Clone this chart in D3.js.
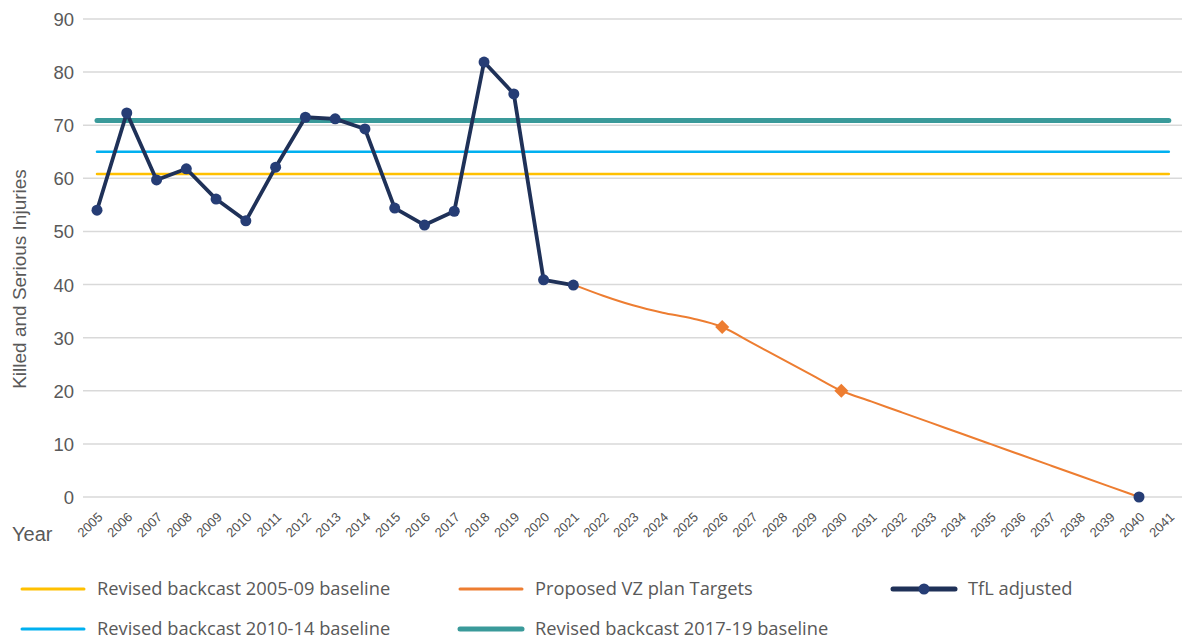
<!DOCTYPE html>
<html>
<head>
<meta charset="utf-8">
<script src="https://cdn.jsdelivr.net/npm/d3@7"></script>
<style>
  html, body { margin: 0; padding: 0; background: #fff; }
  svg { display: block; }
</style>
</head>
<body>
<svg id="chart" width="1182" height="641"></svg>
<script>
// ---- Data ----
const years = d3.range(2005, 2042).map(String);
const yTicks = [0, 10, 20, 30, 40, 50, 60, 70, 80, 90];
const tflAdjusted = [54, 72.3, 59.7, 61.8, 56.1, 52, 62.1, 71.5, 71.2, 69.3, 54.4, 51.2, 53.8, 81.9, 75.9, 40.9, 39.9,
  null, null, null, null, null, null, null, null, null, null, null, null, null, null, null, null, null, null, 0, null];
const vzTargets = [null, null, null, null, null, null, null, null, null, null, null, null, null, null, null, null, 40,
  37.9, 36.1, 34.7, 33.6, 32, 29, 26, 23, 20, 18, 16, 14, 12, 10, 8, 6, 4, 2, 0, null];
const vzMarkerYears = ["2026", "2030"];
const baseline0509 = 60.8;
const baseline1014 = 65.0;
const baseline1719 = 70.9;

const legendItems = [
  { key: "b0509", label: "Revised backcast 2005-09 baseline" },
  { key: "vz", label: "Proposed VZ plan Targets" },
  { key: "tfl", label: "TfL adjusted" },
  { key: "b1014", label: "Revised backcast 2010-14 baseline" },
  { key: "b1719", label: "Revised backcast 2017-19 baseline" }
];

// ---- Styles ----
const C = {
  grid: "#d9d9d9", text: "#595959",
  yellow: "#ffc000", blue: "#00b0f0", teal: "#3a9a9a", orange: "#ed7d31",
  navy: "#1f3158", navyMarker: "#263d75"
};
const AX_FONT = "Liberation Sans, Arial, sans-serif";

const svg = d3.select("#chart");
const x = d3.scalePoint().domain(years).range([97, 1168.8]);
const y = d3.scaleLinear().domain([0, 90]).range([497, 19]);

// gridlines
svg.append("g").selectAll("line").data(yTicks).join("line")
  .attr("x1", 83).attr("x2", 1182)
  .attr("y1", d => y(d)).attr("y2", d => y(d))
  .attr("stroke", C.grid).attr("stroke-width", 1.5);

// y axis labels
const yAxis = d3.axisLeft(y).tickValues(yTicks).tickSize(0).tickPadding(0);
const gy = svg.append("g").attr("transform", "translate(74,0)").call(yAxis);
gy.select(".domain").remove();
gy.selectAll("text").attr("font-family", AX_FONT)
  .attr("font-size", 18.5).attr("fill", C.text).attr("dy", "0.35em");

// x axis labels
const xAxis = d3.axisBottom(x).tickSize(0).tickPadding(0);
const gx = svg.append("g").attr("transform", "translate(0,497)").call(xAxis);
gx.select(".domain").remove();
gx.selectAll("text")
  .attr("font-family", AX_FONT)
  .attr("font-size", 13).attr("fill", "#505050")
  .attr("text-anchor", "end").attr("dy", 0).attr("y", 0)
  .attr("transform", "translate(6,21) rotate(-44)");

// axis titles
svg.append("text").attr("transform", "translate(25.5,279) rotate(-90)")
  .attr("text-anchor", "middle").attr("font-family", AX_FONT)
  .attr("font-size", 19).attr("fill", C.text).text("Killed and Serious Injuries");
svg.append("text").attr("x", 12).attr("y", 541)
  .attr("font-family", AX_FONT)
  .attr("font-size", 20).attr("fill", C.text).text("Year");

// baselines
function baseline(val, color, w) {
  svg.append("line").attr("x1", x(years[0])).attr("x2", x(years[years.length - 1]))
    .attr("y1", y(val)).attr("y2", y(val))
    .attr("stroke", color).attr("stroke-width", w).attr("stroke-linecap", "round");
}
baseline(baseline0509, C.yellow, 2.5);
baseline(baseline1014, C.blue, 2.5);
baseline(baseline1719, C.teal, 5);

// VZ targets
const vzData = years.map((yr, i) => ({ yr, v: vzTargets[i] }));
svg.append("path").datum(vzData)
  .attr("d", d3.line().defined(d => d.v != null).x(d => x(d.yr)).y(d => y(d.v)).curve(d3.curveMonotoneX))
  .attr("fill", "none").attr("stroke", C.orange).attr("stroke-width", 2);
svg.append("g").selectAll("path").data(vzData.filter(d => vzMarkerYears.includes(d.yr))).join("path")
  .attr("d", d3.symbol(d3.symbolDiamond2, 125))
  .attr("transform", d => `translate(${x(d.yr)},${y(d.v)})`)
  .attr("fill", C.orange);

// TfL adjusted
const tflData = years.map((yr, i) => ({ yr, v: tflAdjusted[i] }));
svg.append("path").datum(tflData)
  .attr("d", d3.line().defined(d => d.v != null).x(d => x(d.yr)).y(d => y(d.v)))
  .attr("fill", "none").attr("stroke", C.navy).attr("stroke-width", 3.8).attr("stroke-linejoin", "round");
svg.append("g").selectAll("circle").data(tflData.filter(d => d.v != null)).join("circle")
  .attr("cx", d => x(d.yr)).attr("cy", d => y(d.v)).attr("r", 5.5)
  .attr("fill", C.navyMarker);

// legend
const legPos = {
  b0509: { lx: 22, tx: 97, y: 589 },
  vz: { lx: 460, tx: 535, y: 589 },
  tfl: { lx: 893, tx: 968, y: 589 },
  b1014: { lx: 22, tx: 97, y: 629 },
  b1719: { lx: 460, tx: 535, y: 629 }
};
const legStyle = {
  b0509: { c: C.yellow, w: 3 }, vz: { c: C.orange, w: 3 }, tfl: { c: C.navy, w: 5 },
  b1014: { c: C.blue, w: 3 }, b1719: { c: C.teal, w: 5 }
};
const lg = svg.append("g").selectAll("g").data(legendItems).join("g");
lg.append("line")
  .attr("x1", d => legPos[d.key].lx).attr("x2", d => legPos[d.key].lx + 62)
  .attr("y1", d => legPos[d.key].y).attr("y2", d => legPos[d.key].y)
  .attr("stroke", d => legStyle[d.key].c).attr("stroke-width", d => legStyle[d.key].w)
  .attr("stroke-linecap", "round");
lg.filter(d => d.key === "tfl").append("circle")
  .attr("cx", d => legPos[d.key].lx + 31).attr("cy", d => legPos[d.key].y).attr("r", 5.5)
  .attr("fill", C.navyMarker);
lg.append("text")
  .attr("x", d => legPos[d.key].tx).attr("y", d => legPos[d.key].y).attr("dy", "0.35em")
  .attr("font-family", "Open Sans, sans-serif").attr("font-size", 18.3).attr("fill", C.text)
  .text(d => d.label);
</script>
</body>
</html>
